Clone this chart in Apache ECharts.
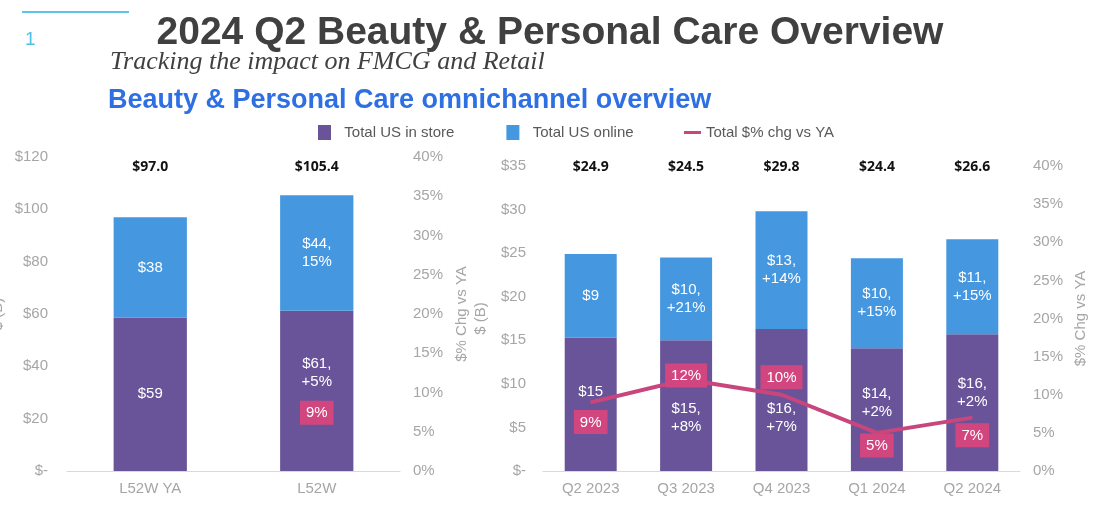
<!DOCTYPE html>
<html>
<head>
<meta charset="utf-8">
<script src="https://cdn.jsdelivr.net/npm/echarts@6/dist/echarts.min.js"></script>
<style>
html,body{margin:0;padding:0;background:#fff;}
#chart{width:1100px;height:505px;}
</style>
</head>
<body>
<div id="chart"></div>
<script>
// ---- data ----
const leftCats = ['L52W YA', 'L52W'];
const leftStore = [58.6, 61.2];
const leftOnline = [38.4, 44.2];
const leftTotals = ['$97.0', '$105.4'];
const leftChg = [null, 9];
const leftStoreLabels = ['$59', '$61,\n+5%'];
const leftOnlineLabels = ['$38', '$44,\n15%'];

const rightCats = ['Q2 2023', 'Q3 2023', 'Q4 2023', 'Q1 2024', 'Q2 2024'];
const rightStore = [15.3, 15.0, 16.3, 14.1, 15.7];
const rightOnline = [9.6, 9.5, 13.5, 10.3, 10.9];
const rightTotals = ['$24.9', '$24.5', '$29.8', '$24.4', '$26.6'];
const rightChg = [9, 12, 10, 5, 7];
const rightStoreLabels = ['$15', '$15,\n+8%', '$16,\n+7%', '$14,\n+2%', '$16,\n+2%'];
const rightOnlineLabels = ['$9', '$10,\n+21%', '$13,\n+14%', '$10,\n+15%', '$11,\n+15%'];

const leftDollarTicks = ['$-', '$20', '$40', '$60', '$80', '$100', '$120'];
const rightDollarTicks = ['$-', '$5', '$10', '$15', '$20', '$25', '$30', '$35'];
const pctTicks = ['0%', '5%', '10%', '15%', '20%', '25%', '30%', '35%', '40%'];

// ---- style ----
const PURPLE = '#695499';
const BLUE = '#4597e0';
const PINK = '#d2467f';
const LINE = '#c9467d';
const GRAY = '#a6a6a6';
const FONT = '"Liberation Sans", Arial, sans-serif';

const leftStoreShift = [0, -18];
const rightStoreShift = [-12, 12, 18, -7, -10];
const leftChgPos = [null, {position: 'bottom', distance: 0}];
const rightChgPos = [
  {position: 'bottom', distance: 7},
  {position: 'inside', offset: [0, -4]},
  {position: 'top', distance: 5},
  {position: 'bottom', distance: 0},
  {position: 'bottom', distance: 5}
];

const chart = echarts.init(document.getElementById('chart'));

const barLabel = (labels) => ({
  show: true, position: 'inside', color: '#fff', fontSize: 15, lineHeight: 18,
  fontFamily: FONT, formatter: p => labels[p.dataIndex]
});
const chgLabel = {
  show: true, color: '#fff', fontSize: 15, fontFamily: FONT,
  backgroundColor: PINK, padding: [5, 6, 4, 6],
  formatter: p => p.value + '%'
};

function yDollar(grid, ticks, max, interval, margin, gap, name) {
  return {
    type: 'value', gridIndex: grid, min: 0, max: max, interval: interval, position: 'left',
    axisLine: {show: false}, axisTick: {show: false}, splitLine: {show: false},
    axisLabel: {color: GRAY, fontSize: 15, fontFamily: FONT, margin: margin,
      formatter: v => ticks[Math.round(v / interval)]},
    name: name, nameLocation: 'middle', nameRotate: 90, nameGap: gap,
    nameTextStyle: {color: GRAY, fontSize: 15, fontFamily: FONT}
  };
}
function yPct(grid, margin, gap) {
  return {
    type: 'value', gridIndex: grid, min: 0, max: 40, interval: 5, position: 'right',
    axisLine: {show: false}, axisTick: {show: false}, splitLine: {show: false},
    axisLabel: {color: GRAY, fontSize: 15, fontFamily: FONT, margin: margin,
      formatter: v => pctTicks[Math.round(v / 5)]},
    name: '$% Chg vs YA', nameLocation: 'middle', nameRotate: 90, nameGap: gap,
    nameTextStyle: {color: GRAY, fontSize: 15, fontFamily: FONT}
  };
}
function xCat(grid, cats) {
  return {
    type: 'category', gridIndex: grid, data: cats, position: 'bottom',
    axisLine: {lineStyle: {color: '#d9d9d9', width: 1}}, axisTick: {show: false},
    axisLabel: {color: GRAY, fontSize: 15, fontFamily: FONT, margin: 10}
  };
}
function xTotals(grid, totals, margin) {
  return {
    type: 'category', gridIndex: grid, data: totals, position: 'top',
    axisLine: {show: false}, axisTick: {show: false},
    axisLabel: {inside: true, margin: margin, color: '#111', fontSize: 14,
      fontWeight: 'bold', fontFamily: '"Open Sans", sans-serif'}
  };
}

const option = {
  backgroundColor: '#fff',
  animation: false,
  textStyle: {fontFamily: FONT},
  title: [
    {text: '2024 Q2 Beauty & Personal Care Overview', left: 'center', top: 9,
     textStyle: {fontSize: 39, fontWeight: 'bold', color: '#404040', fontFamily: FONT}},
    {text: 'Tracking the impact on FMCG and Retail', left: 105, top: 44,
     textStyle: {fontSize: 26, fontStyle: 'italic', fontWeight: 'normal', color: '#404040',
       fontFamily: '"Liberation Serif", "Times New Roman", serif'}},
    {text: 'Beauty & Personal Care omnichannel overview', left: 103, top: 82,
     textStyle: {fontSize: 27, fontWeight: 'bold', color: '#2f6fe4', fontFamily: FONT}},
    {text: '1', left: 20, top: 25,
     textStyle: {fontSize: 19, fontWeight: 'normal', color: '#4fc1e9', fontFamily: FONT}}
  ],
  graphic: [
    {type: 'line', shape: {x1: 22, y1: 12, x2: 129, y2: 12},
     style: {stroke: '#5cc4e8', lineWidth: 2}}
  ],
  legend: [
    {data: ['Total US in store', 'Total US online'], left: 318, top: 125, padding: 0,
     itemWidth: 13, itemHeight: 15, itemGap: 52, icon: 'rect',
     formatter: n => '  ' + n,
     textStyle: {color: '#595959', fontSize: 15, fontFamily: FONT}},
    {data: [{name: 'Total $% chg vs YA', icon: 'rect'}], left: 684, top: 125, padding: 0,
     itemWidth: 17, itemHeight: 3,
     textStyle: {color: '#595959', fontSize: 15, fontFamily: FONT}}
  ],
  grid: [
    {left: 67, width: 333, top: 157, height: 314, outerBoundsMode: 'none', containLabel: false},
    {left: 543, width: 477, top: 166, height: 305, outerBoundsMode: 'none', containLabel: false}
  ],
  xAxis: [
    xCat(0, leftCats),
    xTotals(0, leftTotals, 3),
    xCat(1, rightCats),
    xTotals(1, rightTotals, -6)
  ],
  yAxis: [
    yDollar(0, leftDollarTicks, 120, 20, 19, 62, '$ (B)'),
    yPct(0, 13, 54),
    yDollar(1, rightDollarTicks, 35, 5, 17, 55, '$ (B)'),
    yPct(1, 13, 53)
  ],
  series: [
    {name: 'Total US in store', type: 'bar', stack: 'L', xAxisIndex: 0, yAxisIndex: 0,
     barWidth: '44%', itemStyle: {color: PURPLE},
     data: leftStore.map((v, i) => ({value: v, label: {offset: [0, leftStoreShift[i]]}})),
     label: barLabel(leftStoreLabels)},
    {name: 'Total US online', type: 'bar', stack: 'L', xAxisIndex: 0, yAxisIndex: 0,
     barWidth: '44%', itemStyle: {color: BLUE}, data: leftOnline,
     label: barLabel(leftOnlineLabels)},
    {name: 'Total $% chg vs YA', type: 'line', xAxisIndex: 0, yAxisIndex: 1, z: 5,
     symbol: 'circle', symbolSize: 1, showSymbol: true,
     itemStyle: {color: LINE}, lineStyle: {color: LINE, width: 4},
     label: chgLabel,
     data: leftChg.map((v, i) => v === null ? null : ({value: v, label: leftChgPos[i]}))},
    {name: 'Total US in store', type: 'bar', stack: 'R', xAxisIndex: 2, yAxisIndex: 2,
     barWidth: '54.5%', itemStyle: {color: PURPLE},
     data: rightStore.map((v, i) => ({value: v, label: {offset: [0, rightStoreShift[i]]}})),
     label: barLabel(rightStoreLabels)},
    {name: 'Total US online', type: 'bar', stack: 'R', xAxisIndex: 2, yAxisIndex: 2,
     barWidth: '54.5%', itemStyle: {color: BLUE}, data: rightOnline,
     label: barLabel(rightOnlineLabels)},
    {name: 'Total $% chg vs YA', type: 'line', xAxisIndex: 2, yAxisIndex: 3, z: 5,
     symbol: 'circle', symbolSize: 1, showSymbol: true,
     itemStyle: {color: LINE}, lineStyle: {color: LINE, width: 4},
     label: chgLabel,
     data: rightChg.map((v, i) => ({value: v, label: rightChgPos[i]}))}
  ]
};
chart.setOption(option);
</script>
</body>
</html>
